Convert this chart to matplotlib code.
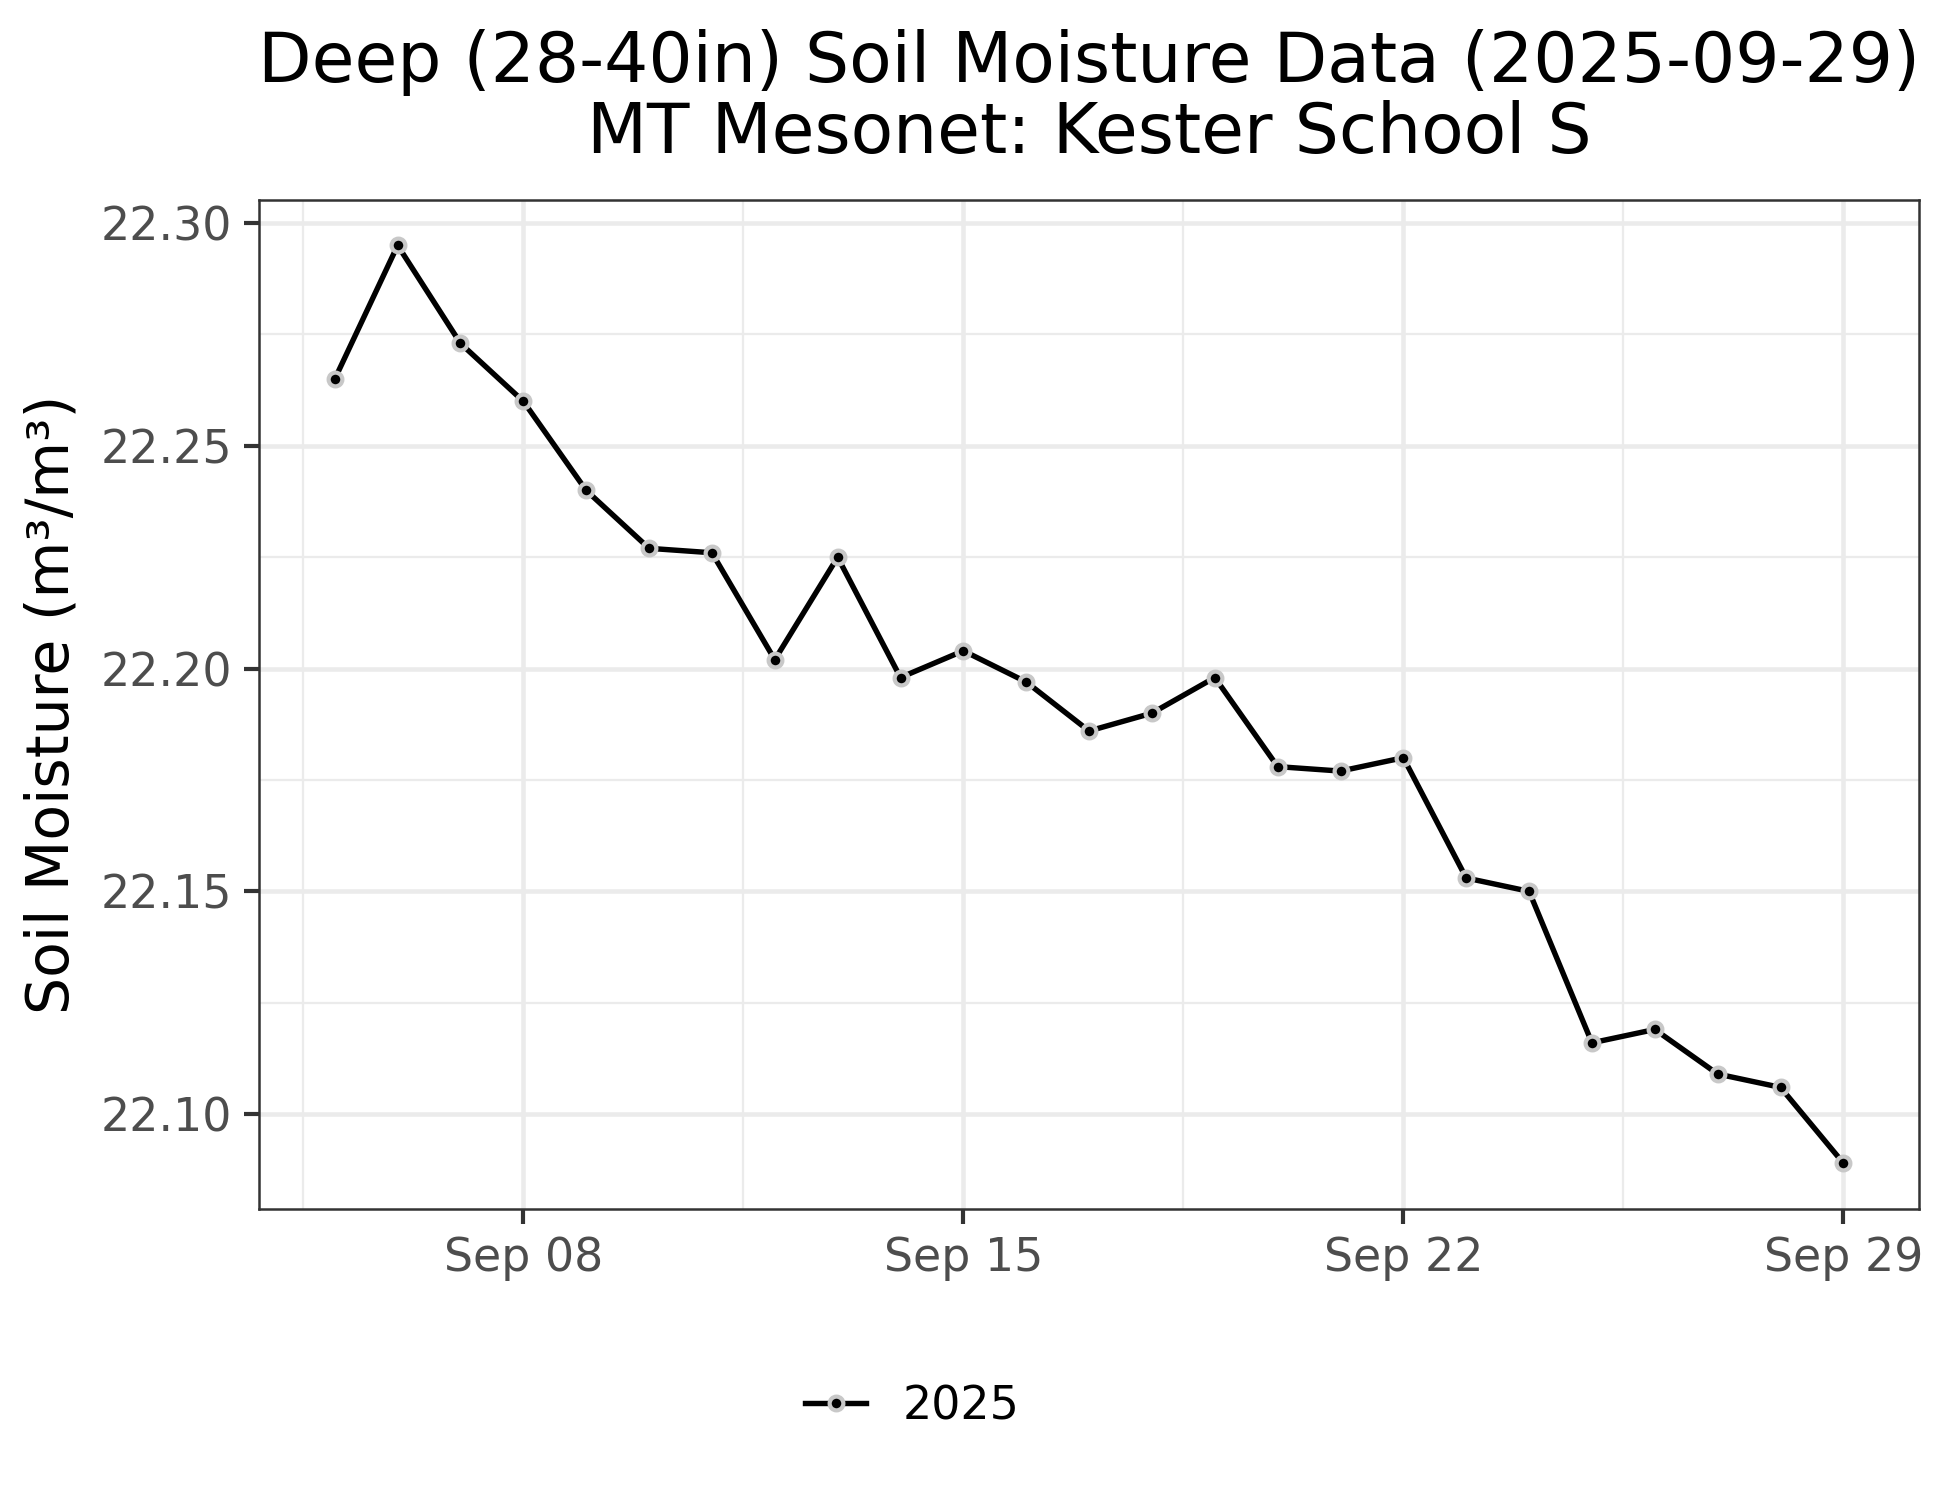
################################################################################
##### import packages #####
import matplotlib
matplotlib.use('Agg')
import matplotlib.pyplot as plt
import matplotlib.dates as mdates
import numpy as np
import pandas as pd

################################################################################
##### data #####
dates = pd.date_range('2025-09-05', '2025-09-29', freq='D')
soil_moisture = [22.265, 22.295, 22.273, 22.260, 22.240, 22.227, 22.226, 22.202,
                 22.225, 22.198, 22.204, 22.197, 22.186, 22.190, 22.198, 22.178,
                 22.177, 22.180, 22.153, 22.150, 22.116, 22.119, 22.109, 22.106,
                 22.089]
series_label = '2025'
x_ticks = pd.to_datetime(['2025-09-08', '2025-09-15', '2025-09-22', '2025-09-29'])
x_minor = pd.to_datetime(['2025-09-04 12:00', '2025-09-11 12:00', '2025-09-18 12:00', '2025-09-25 12:00'])
y_ticks = [22.10, 22.15, 22.20, 22.25, 22.30]
y_minor = [22.125, 22.175, 22.225, 22.275]

################################################################################
##### figure #####
plt.rcParams['font.family'] = 'DejaVu Sans'
fig = plt.figure(figsize=(6.5, 5), dpi=300)
ax = fig.add_axes([0.133, 0.194, 0.851, 0.673])

ax.plot(dates, soil_moisture, color='black', linewidth=1.3, marker='o', markersize=3.3,
        markerfacecolor='black', markeredgecolor='#c8c8c8', markeredgewidth=1.0,
        label=series_label, zorder=3)

# ggplot style expansion (5%)
span = dates[-1] - dates[0]
ax.set_xlim(dates[0] - span * 0.05, dates[-1] + span * 0.05)
yr = max(soil_moisture) - min(soil_moisture)
ax.set_ylim(min(soil_moisture) - yr * 0.05, max(soil_moisture) + yr * 0.05)

ax.set_xticks(x_ticks)
ax.set_xticks(x_minor, minor=True)
ax.xaxis.set_major_formatter(mdates.DateFormatter('%b %d'))
ax.set_yticks(y_ticks)
ax.set_yticks(y_minor, minor=True)
ax.set_yticklabels(['%.2f' % v for v in y_ticks])

ax.grid(which='major', color='#ebebeb', linewidth=1.1, zorder=0)
ax.grid(which='minor', color='#ebebeb', linewidth=0.55, zorder=0)
ax.set_axisbelow(True)
for sp in ax.spines.values():
    sp.set_color('#333333')
    sp.set_linewidth(0.6)
ax.tick_params(which='major', length=3.5, width=1.0, color='#333333',
               labelsize=11, labelcolor='#4d4d4d', pad=3)
ax.tick_params(which='minor', length=0)

ax.set_ylabel('Soil Moisture (m³/m³)', fontsize=14, va='center')
ax.yaxis.set_label_coords(-0.1247, 0.5)
fig.text(0.5585, 0.958, 'Deep (28-40in) Soil Moisture Data (2025-09-29)', ha='center', va='center', fontsize=16.7)
fig.text(0.5585, 0.911, 'MT Mesonet: Kester School S', ha='center', va='center', fontsize=16.7)

fig.legend(loc='center', bbox_to_anchor=(0.468, 0.062), frameon=False, fontsize=11,
           handlelength=1.33, handletextpad=0.8)

plt.savefig('out.png', dpi=300, facecolor='white')
